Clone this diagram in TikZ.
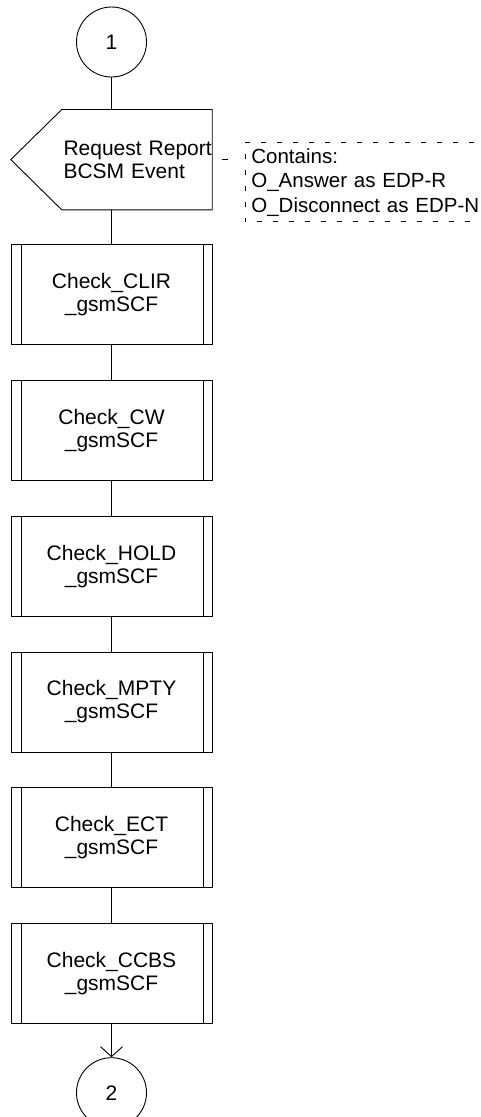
\documentclass[tikz,border=0pt]{standalone}
\usepackage{fontspec}
\setmainfont{Liberation Sans}
\usetikzlibrary{arrows.meta, positioning, calc}
\tikzset{
  sdltext/.style={font=\fontsize{21}{23}\selectfont},
  sdlconn/.style={circle, draw, line width=0.9pt, minimum size=70pt,
    inner sep=0pt, sdltext},
  sdlsig/.style={rectangle, draw=none, minimum width=150pt, minimum height=100pt,
    inner xsep=1.5pt, text width=147pt, align=left, sdltext},
  sdlproc/.style={rectangle, draw, line width=0.9pt, minimum width=201pt,
    minimum height=100pt, align=center, sdltext,
    path picture={
      \draw[line width=0.9pt]
        ([xshift=10pt]path picture bounding box.north west) --
        ([xshift=10pt]path picture bounding box.south west)
        ([xshift=-9pt]path picture bounding box.north east) --
        ([xshift=-9pt]path picture bounding box.south east);
    }},
  sdlnote/.style={rectangle, draw=none, minimum width=235pt, minimum height=79pt,
    inner xsep=6pt, text width=232pt, align=left,
    font=\fontsize{20.5}{24.5}\selectfont},
  sdlflow/.style={draw, line width=0.9pt},
  sdldash/.style={draw, line width=0.9pt, dash pattern=on 5pt off 11pt},
}
\begin{document}
\begin{tikzpicture}[x=1pt, y=-1pt]
\useasboundingbox (0,0) rectangle (480,1117);

\node[sdlconn] (c1) at (111.5,42) {1};
\node[sdlsig, below=32pt of c1, xshift=25.5pt] (req)
  {\mbox{Request Report}\\\mbox{BCSM Event}};
\node[sdlproc, below=34pt of req, xshift=-25.5pt] (clir) {Check\_CLIR\\\_gsmSCF};
\node[sdlproc, below=35pt of clir] (cw) {Check\_CW\\\_gsmSCF};
\node[sdlproc, below=35pt of cw] (hold) {Check\_HOLD\\\_gsmSCF};
\node[sdlproc, below=35pt of hold] (mpty) {Check\_MPTY\\\_gsmSCF};
\node[sdlproc, below=35pt of mpty] (ect) {Check\_ECT\\\_gsmSCF};
\node[sdlproc, below=35pt of ect] (ccbs) {Check\_CCBS\\\_gsmSCF};
\node[sdlconn, below=33pt of ccbs] (c2) {2};

% signal shape round the text
\draw[sdlflow] (req.north west) -- (req.north east) -- (req.south east)
  -- (req.south west) -- ([xshift=-51pt]req.west) -- cycle;

% comment
\node[sdlnote, right=33pt of req.east, anchor=west, yshift=-22.5pt] (note)
  {\mbox{Contains:}\\\mbox{O\_Answer as EDP-R}\\\mbox{O\_Disconnect as EDP-N}};
\draw[sdldash] (note.north east) -- (note.north west) -- (note.south west)
  -- (note.south east);
\draw[sdldash, dash pattern=on 6pt off 30pt, dash phase=-10pt]
  (req.east) -- (req.east -| note.west);

\draw[sdlflow] (c1.south) -- (c1.south |- req.north);
\draw[sdlflow] (clir.north |- req.south) -- (clir.north);
\draw[sdlflow] (clir)--(cw);
\draw[sdlflow] (cw)--(hold);
\draw[sdlflow] (hold)--(mpty);
\draw[sdlflow] (mpty)--(ect);
\draw[sdlflow] (ect)--(ccbs);
\draw[sdlflow, -{Straight Barb[length=10pt, width=22pt, line width=0.9pt]}]
  (ccbs)--(c2);
\end{tikzpicture}
\end{document}
